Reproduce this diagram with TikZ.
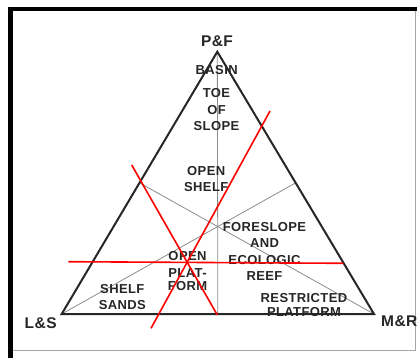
\documentclass[tikz,border=0pt]{standalone}
\usepackage{fontspec}
\setmainfont{Liberation Sans}
\newfontfamily\widesans[LetterSpace=3]{Liberation Sans}
\usetikzlibrary{calc}

\begin{document}
\begin{tikzpicture} [x=1pt,y=-1pt,
  lbl/.style={font=\widesans\fontsize{13}{16.5}\selectfont\bfseries, text=black!85, align=center, inner sep=0pt},
  corner/.style={font=\widesans\fontsize{15.5}{18}\selectfont\bfseries, text=black!85, inner sep=0pt},
  median/.style={draw=black!45, line width=0.8pt},
  cut/.style={draw=red, line width=1.6pt}]

\useasboundingbox (0,0) rectangle (417,358);

% frame
\draw [line width=4.5pt] (10.5,358) -- (10.5,9) -- (417,9);
\draw [black!35, line width=0.8pt] (13,350.5) -- (415.5,350.5) -- (415.5,11);

% corners of the triangle
\coordinate (PF) at (217.3,51.7);
\coordinate (LS) at (61.7,314);
\coordinate (MR) at (374,314);
\coordinate (midB) at ($(LS)!0.5!(MR)$);
\coordinate (midL) at ($(LS)!0.5!(PF)$);
\coordinate (midR) at ($(MR)!0.5!(PF)$);

\draw [median] (PF) -- (midB);
\draw [median] (midL) -- (MR);
\draw [median] (LS) -- (midR);
\draw [line width=2pt, black!85, line join=miter] (PF) -- (LS) -- (MR) -- cycle;

\node [corner] (pf) at (217,41.7) {P\&F};
\node [corner] (ls) at (40.7,323.3) {L\&S};
\node [corner, anchor=west] (mr) at (381,321.7) {M\&R};

\node [lbl] (basin) at (216.7,70) {BASIN};
\node [lbl] (toe) at (216.5,109.8) {TOE\\OF\\SLOPE};
\node [lbl] (shelf) at (206.2,179) {OPEN\\SHELF};
\node [lbl] (reef) at (264.5,251.5) {FORESLOPE\\AND\\ECOLOGIC\\REEF};
\node [lbl] (oplat) at (187.5,271) {OPEN\\[1pt]PLAT-\\[-4pt]FORM};
\node [lbl] (sands) at (122.3,297.2) {SHELF\\SANDS};
\node [lbl] (restr) at (304,305) {RESTRICTED\\[-2pt]PLATFORM};

% red lines
\coordinate (h1) at (68.3,261.7);
\coordinate (h2) at (343.3,263.3);
\coordinate (a1) at (131.7,165);
\coordinate (a2) at (217.3,315);
\coordinate (b1) at (270,111);
\coordinate (b2) at (151,328.3);
\draw [cut] (h1) -- (h2);
\draw [cut] (a1) -- (a2);
\draw [cut] (b1) -- (b2);

\end{tikzpicture}
\end{document}
